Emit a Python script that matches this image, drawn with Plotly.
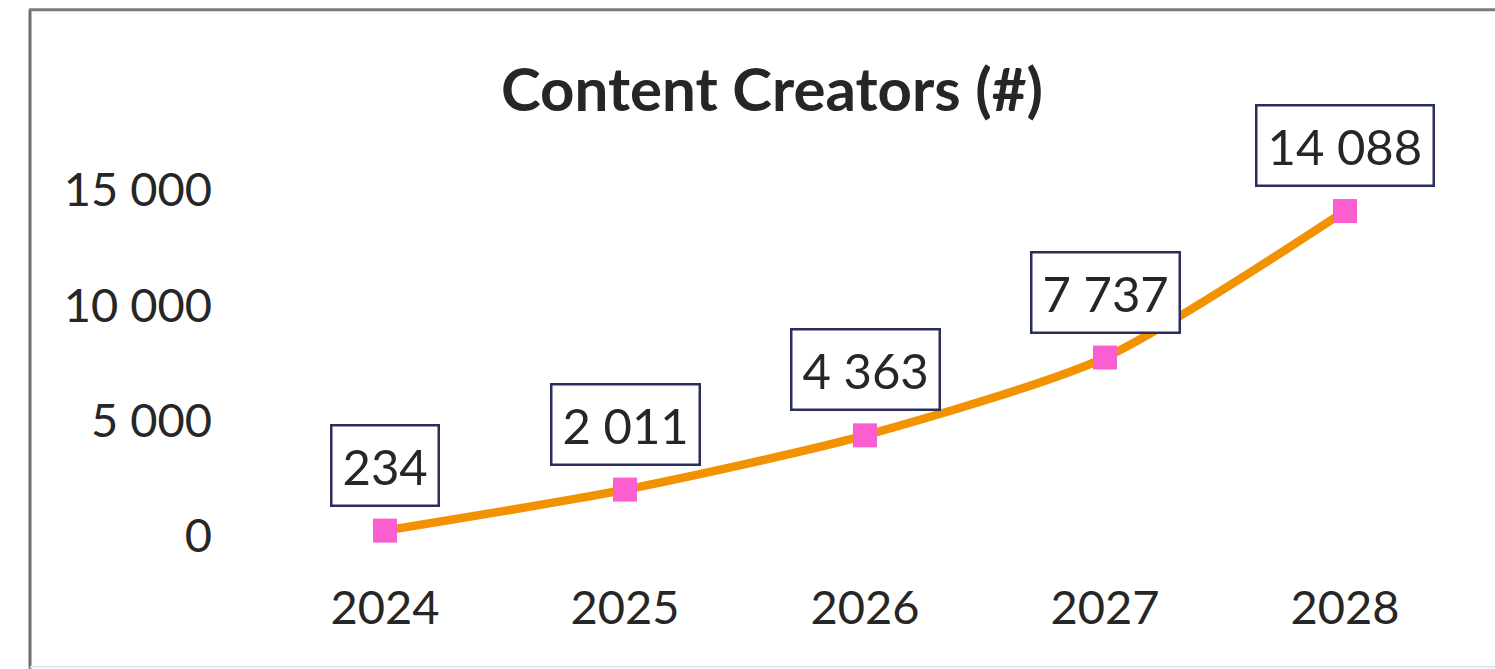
import plotly.graph_objects as go

years = ["2024", "2025", "2026", "2027", "2028"]
creators = [234, 2011, 4363, 7737, 14088]
y_ticks = [0, 5000, 10000, 15000]
title_text = "Content Creators (#)"

W, H = 1495, 669
L, R, T, B = 265, 30, 189.5, 133  # plot-area margins in px

FONT = "Lato"
TXT = "#262626"


def fmt(v):
    return f"{v:,}".replace(",", " ")


fig = go.Figure()
fig.add_trace(go.Scatter(
    x=years, y=creators,
    mode="lines+markers",
    line=dict(color="#F39200", width=8.5, shape="spline", smoothing=0.7),
    marker=dict(symbol="square", size=24, color="#FB5FCF"),
    cliponaxis=False,
    hoverinfo="skip",
))

# boxed value labels above each point
for i, v in enumerate(creators):
    fig.add_annotation(
        x=i, y=v, xref="x", yref="y",
        text=fmt(v), showarrow=False,
        xanchor="center", yanchor="bottom", yshift=24,
        font=dict(family=FONT, size=49, color=TXT),
        bgcolor="white", bordercolor="#2A2E5C", borderwidth=2.5, borderpad=10,
    )

pw = W - L - R
ph = H - T - B


def px_x(px):
    return (px - L) / pw


def px_y(py):
    return (H - B - py) / ph


# outer chart frame: left and top edges, faint bottom edge
fig.add_shape(type="line", xref="paper", yref="paper",
              x0=px_x(30), x1=px_x(30), y0=px_y(9), y1=px_y(669),
              line=dict(color="#6E6E6E", width=3))
fig.add_shape(type="line", xref="paper", yref="paper",
              x0=px_x(29), x1=px_x(1500), y0=px_y(9), y1=px_y(9),
              line=dict(color="#7A7A7A", width=3))
fig.add_shape(type="line", xref="paper", yref="paper",
              x0=px_x(30), x1=px_x(1500), y0=px_y(667), y1=px_y(667),
              line=dict(color="#E6E6E6", width=2))

fig.update_layout(
    width=W, height=H,
    margin=dict(l=L, r=R, t=T, b=B, pad=0),
    paper_bgcolor="white", plot_bgcolor="white",
    separators=". ",
    showlegend=False,
    title=dict(
        text=title_text, xref="paper", x=px_x(772), xanchor="center",
        yref="container", y=1 - 90 / H, yanchor="middle",
        font=dict(family=FONT, size=60, color=TXT, weight="bold"),
    ),
    xaxis=dict(
        type="category", range=[-0.5, 4.5],
        showgrid=False, zeroline=False, showline=False, ticks="",
        tickfont=dict(family=FONT, size=47, color=TXT),
        ticklabelstandoff=40,
    ),
    yaxis=dict(
        range=[0, 15000], tickvals=y_ticks, tickformat=",d",
        showgrid=False, zeroline=False, showline=False, ticks="",
        tickfont=dict(family=FONT, size=47, color=TXT),
        ticklabelstandoff=52,
    ),
)

fig.write_html("out.html")
